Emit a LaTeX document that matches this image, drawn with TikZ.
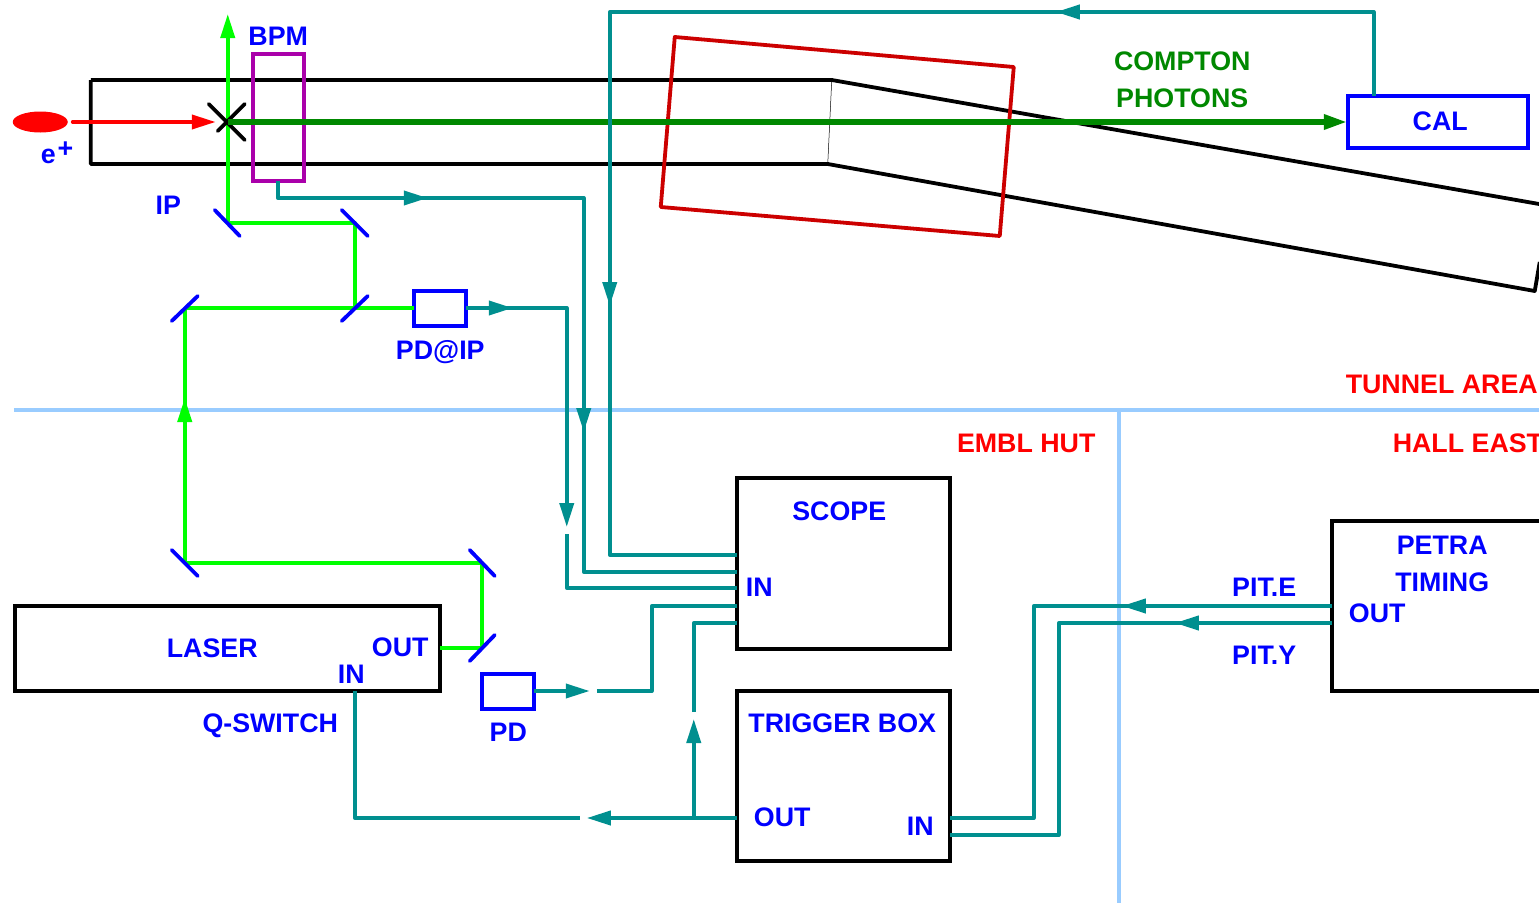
\documentclass[tikz,border=0pt]{standalone}
\usepackage{fontspec}
\setmainfont{Liberation Sans}[BoldFont={Liberation Sans Bold}]
\usetikzlibrary{arrows.meta,shapes.geometric}
\definecolor{teal}{HTML}{008F8F}
\definecolor{lineblue}{HTML}{99CCFF}
\definecolor{brightgreen}{HTML}{00FF00}
\definecolor{darkgreen}{HTML}{008800}
\definecolor{magentabox}{HTML}{AA00AA}
\definecolor{bendred}{HTML}{CC0000}
\definecolor{labelblue}{HTML}{0000FF}
\tikzset{
  lbl/.style={inner sep=0pt,outer sep=0pt,anchor=base,yshift=0.5pt,font=\fontsize{26.8}{30}\selectfont\bfseries,text=labelblue},
  lblred/.style={lbl,text=red},
  lblgreen/.style={lbl,text=darkgreen},
  blackbox/.style={draw=black,line width=3.8pt,rectangle,inner sep=0pt,outer sep=0pt,anchor=north west},
  bluebox/.style={draw=labelblue,line width=3.8pt,rectangle,inner sep=0pt,outer sep=0pt,anchor=north west},
  tealline/.style={draw=teal,line width=3.8pt,line join=round},
  tealarrow/.style={tealline,-{Triangle[length=24pt,width=14pt,color=teal]}},
  fromtip/.style={shorten <=-12pt},
  greenline/.style={draw=brightgreen,line width=3.8pt,line join=round},
  greenarrow/.style={greenline,-{Triangle[length=24pt,width=14pt,color=brightgreen]}},
  mirror/.style={draw=labelblue,line width=3.8pt,line cap=round},
  zoneline/.style={draw=lineblue,line width=3.8pt},
  pipeline/.style={draw=black,line width=3.8pt,line join=round},
}
\begin{document}
\begin{tikzpicture}[x=1pt,y=-1pt]
\useasboundingbox (0.25,0) rectangle (1539.25,902);
% zone lines
\coordinate (zl) at (14,410); \coordinate (zr) at (1541,410);
\coordinate (zt) at (1119,410); \coordinate (zb) at (1119,904);
\draw[zoneline] (zl) -- (zr);
\draw[zoneline] (zt) -- (zb);
% beam pipe
\coordinate (p1) at (832,80); \coordinate (p2) at (828,164);
\draw[pipeline] (91,80) -- (p1) -- (1545,205);
\draw[pipeline] (91,80) -- (91,164) -- (p2) -- (1535,291) -- (1540,262);
\draw[black,line width=0.5pt] (p1) -- (p2);
% bending magnet
\draw[bendred,line width=3.8pt,line join=round] (675,37) -- (1014,67) -- (1000,236) -- (661,207) -- cycle;
% boxes
\node[draw=magentabox,line width=3.8pt,rectangle,inner sep=0pt,outer sep=0pt,anchor=north west,minimum width=51pt,minimum height=127pt] (bpm) at (253,54) {};
\node[bluebox,minimum width=180pt,minimum height=52pt] (cal) at (1348,96) {};
\node[bluebox,minimum width=52pt,minimum height=35pt] (pdip) at (414,291) {};
\node[bluebox,minimum width=52pt,minimum height=35pt] (pd) at (482,674) {};
\node[blackbox,minimum width=213pt,minimum height=171pt] (scope) at (737,478) {};
\node[blackbox,minimum width=213pt,minimum height=170pt] (trig) at (737,691) {};
\node[blackbox,minimum width=425pt,minimum height=85pt] (laser) at (15,606) {};
\node[blackbox,minimum width=230pt,minimum height=170pt] (petra) at (1332,521) {};
% electron bunch
\node[draw=none,fill=red,ellipse,minimum width=55pt,minimum height=21pt,inner sep=0pt] (bunch) at (40.5,122) {};
% interaction point, beams
\coordinate (ip) at (228,122);
\coordinate (eStart) at (73,122);
\coordinate (eTip) at (216,122);
\coordinate (m1) at (228,223);
\coordinate (laserUp) at (228,14);
\coordinate (m2) at (355,223);
\coordinate (m3) at (355,308);
\coordinate (m4) at (185,308);
\coordinate (m5) at (185,563);
\coordinate (m6) at (482,563);
\coordinate (m7) at (482,648);
\coordinate (gTip) at (185,398);
\coordinate (lOut) at (440,648);
\draw[greenarrow] (m1) -- (laserUp);
\draw[greenline] (m1) -- (m2) -- (m3);
\draw[greenline] (m4) -- (pdip.west |- m4);
\draw[greenarrow] (m5) -- (gTip);
\draw[greenline,fromtip] (gTip) -- (m4);
\draw[greenline] (m5) -- (m6) -- (m7) -- (lOut);
% mirrors
\draw[mirror] (215,210) -- (240,236);
\draw[mirror] (342,210) -- (368,236);
\draw[mirror] (342,321) -- (368,296);
\draw[mirror] (172,321) -- (198,296);
\draw[mirror] (172,550) -- (198,576);
\draw[mirror] (470,550) -- (495,576);
\draw[mirror] (470,661) -- (495,635);
% cross
\draw[black,line width=3.8pt,line cap=round] (209,104) -- (245,140);
\draw[black,line width=3.8pt,line cap=round] (245,104) -- (218,131);
\draw[red,line width=3.8pt,line cap=round,-{Triangle[length=24pt,width=14pt,color=red]}] (eStart) -- (eTip);
\draw[darkgreen,line width=6pt,-{Triangle[length=24pt,width=14pt,color=darkgreen]}] (ip) -- (cal.west |- ip);
% teal: BPM to scope
\coordinate (a0) at (278,181); \coordinate (a1) at (278,198); \coordinate (a2) at (428,198);
\coordinate (a3) at (584,198); \coordinate (a4) at (584,432); \coordinate (a5) at (584,572);
\draw[tealarrow] (a0) -- (a1) -- (a2);
\draw[tealarrow,fromtip] (a2) -- (a3) -- (a4);
\draw[tealline,fromtip] (a4) -- (a5) -- (scope.west |- a5);
% teal: PD@IP to scope
\coordinate (b0) at (466,308); \coordinate (b1) at (513,308); \coordinate (b2) at (567,308);
\coordinate (b3) at (567,527); \coordinate (b4) at (567,534); \coordinate (b5) at (567,588);
\draw[tealarrow] (b0) -- (b1);
\draw[tealarrow,fromtip] (b1) -- (b2) -- (b3);
\draw[tealline] (b4) -- (b5) -- (scope.west |- b5);
% teal: CAL to scope
\coordinate (c0) at (1374,96); \coordinate (c1) at (1374,12); \coordinate (c2) at (1056,12);
\coordinate (c3) at (610,12); \coordinate (c4) at (610,306); \coordinate (c5) at (610,555);
\draw[tealarrow] (c0) -- (c1) -- (c2);
\draw[tealarrow,fromtip] (c2) -- (c3) -- (c4);
\draw[tealline,fromtip] (c4) -- (c5) -- (scope.west |- c5);
% teal: PD to scope
\coordinate (d0) at (534,691); \coordinate (d1) at (590,691); \coordinate (d2) at (597,691);
\coordinate (d3) at (652,691); \coordinate (d4) at (652,606);
\draw[tealarrow] (d0) -- (d1);
\draw[tealline] (d2) -- (d3) -- (d4) -- (scope.west |- d4);
% teal: trigger box out
\coordinate (e0) at (737,818); \coordinate (e1) at (587,818); \coordinate (e2) at (580,818);
\coordinate (e3) at (355,818); \coordinate (e4) at (355,691);
\coordinate (f0) at (694,818); \coordinate (f1) at (694,719); \coordinate (f2) at (694,712); \coordinate (f3) at (694,623);
\draw[tealarrow] (e0) -- (e1);
\draw[tealline] (e2) -- (e3) -- (e4);
\draw[tealarrow] (f0) -- (f1);
\draw[tealline] (f2) -- (f3) -- (scope.west |- f3);
% teal: PETRA timing to trigger box
\coordinate (g0) at (1332,606); \coordinate (g1) at (1122,606); \coordinate (g2) at (1034,606);
\coordinate (g3) at (1034,818); \coordinate (g4) at (950,818);
\coordinate (h0) at (1332,623); \coordinate (h1) at (1175,623); \coordinate (h2) at (1059,623);
\coordinate (h3) at (1059,835); \coordinate (h4) at (950,835);
\draw[tealarrow] (g0) -- (g1);
\draw[tealline,fromtip] (g1) -- (g2) -- (g3) -- (g4);
\draw[tealarrow] (h0) -- (h1);
\draw[tealline,fromtip] (h1) -- (h2) -- (h3) -- (h4);
% labels
\node[lbl] (tBPM) at (278.5,46) {BPM};
\node[lbl,anchor=base west] (tE) at (41,164) {e\hspace{2pt}\raisebox{6pt}{+}};
\node[lbl] (tIP) at (168.5,215) {IP};
\node[lbl] (tPDIP) at (440.5,360) {PD@IP};
\node[lblgreen] (tC) at (1182.5,71) {COMPTON};
\node[lblgreen] (tPh) at (1182.5,108) {PHOTONS};
\node[lbl] (tCAL) at (1440.5,131) {CAL};
\node[lblred,anchor=base west] (tTun) at (1346,394) {TUNNEL AREA};
\node[lblred] (tEmbl) at (1026.5,453) {EMBL HUT};
\node[lblred,anchor=base west] (tHall) at (1393,453) {HALL EAST};
\node[lbl] (tScope) at (839.5,521) {SCOPE};
\node[lbl] (tIn1) at (759.5,597) {IN};
\node[lbl] (tLaser) at (212.5,658) {LASER};
\node[lbl] (tOut1) at (400.5,657) {OUT};
\node[lbl] (tIn2) at (351.5,684) {IN};
\node[lbl] (tQ) at (270.5,733) {Q-SWITCH};
\node[lbl] (tPD) at (508.5,742) {PD};
\node[lbl] (tTrig) at (842.5,733) {TRIGGER BOX};
\node[lbl] (tOut2) at (782.5,827) {OUT};
\node[lbl] (tIn3) at (920.5,836) {IN};
\node[lbl] (tPetra) at (1442.5,555) {PETRA};
\node[lbl] (tTiming) at (1442.5,592) {TIMING};
\node[lbl] (tOut3) at (1377.5,623) {OUT};
\node[lbl] (tPitE) at (1264.5,597) {PIT.E};
\node[lbl] (tPitY) at (1264.5,665) {PIT.Y};
\end{tikzpicture}
\end{document}
